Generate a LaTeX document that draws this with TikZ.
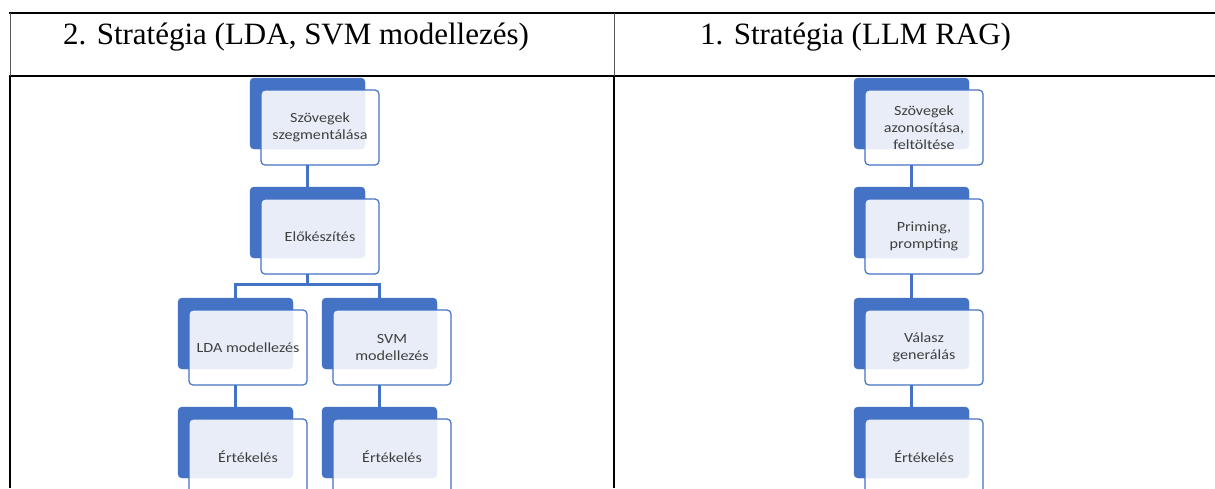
\documentclass[tikz,border=0pt]{standalone}
\usepackage{fontspec}
\setmainfont{Liberation Serif}
\newfontfamily\boxfont[FakeStretch=1.15]{Carlito}
\definecolor{smblue}{HTML}{4472C4}
\definecolor{smtext}{HTML}{3F3F3F}
\definecolor{thinline}{HTML}{555555}
\newcommand\smnode[4]{%
  \node[backbox] (#1bk) at (#2,#3) {};
  \node[frontbox] (#1) at (#2+11,#3+12) {#4};
}
\begin{document}
\begin{tikzpicture}[x=1pt,y=-1pt,
  backbox/.style={fill=smblue, draw=smblue, rounded corners=4pt, minimum width=115pt, minimum height=71pt, anchor=north west, inner sep=0pt, outer sep=0pt},
  frontbox/.style={fill=white, fill opacity=0.88, text opacity=1, draw=smblue, line width=1.2pt, rounded corners=4pt, minimum width=118pt, minimum height=75pt, anchor=north west, inner sep=2pt, outer sep=0pt, align=center, font=\boxfont\fontsize{14}{17}\selectfont, text=smtext},
  link/.style={draw=smblue, line width=3pt},
  header/.style={font=\fontsize{31}{36}\selectfont, anchor=base west, inner sep=0pt},
  rule/.style={line width=2pt, black},
  thin/.style={line width=0.8pt, thinline}]
\useasboundingbox (0,0) rectangle (1215,488);
\clip (0,0) rectangle (1215,488);
\fill[white] (0,0) rectangle (1215,488);
% table
\draw[rule] (9,13) -- (1215,13);
\draw[rule] (9,76) -- (1215,76);
\draw[thin] (10,13) -- (10,76);
\draw[thin] (614,13) -- (614,76);
\draw[rule] (10,76) -- (10,488);
\draw[rule] (614,76) -- (614,488);
% headers
\node[header] (h2) at (63,44) {2. Stratégia (LDA, SVM modellezés)};
\node[header] (h1) at (700,44) {1. Stratégia (LLM RAG)};
% left diagram
\smnode{seg}{250}{78}{Szövegek\\szegmentálása}
\smnode{elo}{250}{187}{Előkészítés}
\smnode{lda}{178}{298}{LDA modellezés}
\smnode{svm}{322}{298}{SVM\\modellezés}
\smnode{evl}{178}{407}{Értékelés}
\smnode{evs}{322}{407}{Értékelés}
\coordinate (bar) at (0,284);
\draw[link] (segbk.center |- seg.south) -- (elobk.north);
\draw[link] (elobk.center |- elo.south) -- (elobk.center |- bar);
\draw[link] (ldabk.north) -- (ldabk.north |- bar) -- (svmbk.north |- bar) -- (svmbk.north);
\draw[link] (ldabk.center |- lda.south) -- (evlbk.north);
\draw[link] (svmbk.center |- svm.south) -- (evsbk.north);
% right diagram
\smnode{azo}{854}{78}{Szövegek\\azonosítása,\\feltöltése}
\smnode{pri}{854}{187}{Priming,\\prompting}
\smnode{val}{854}{298}{Válasz\\generálás}
\smnode{evr}{854}{407}{Értékelés}
\draw[link] (azobk.center |- azo.south) -- (pribk.north);
\draw[link] (pribk.center |- pri.south) -- (valbk.north);
\draw[link] (valbk.center |- val.south) -- (evrbk.north);
\end{tikzpicture}
\end{document}
